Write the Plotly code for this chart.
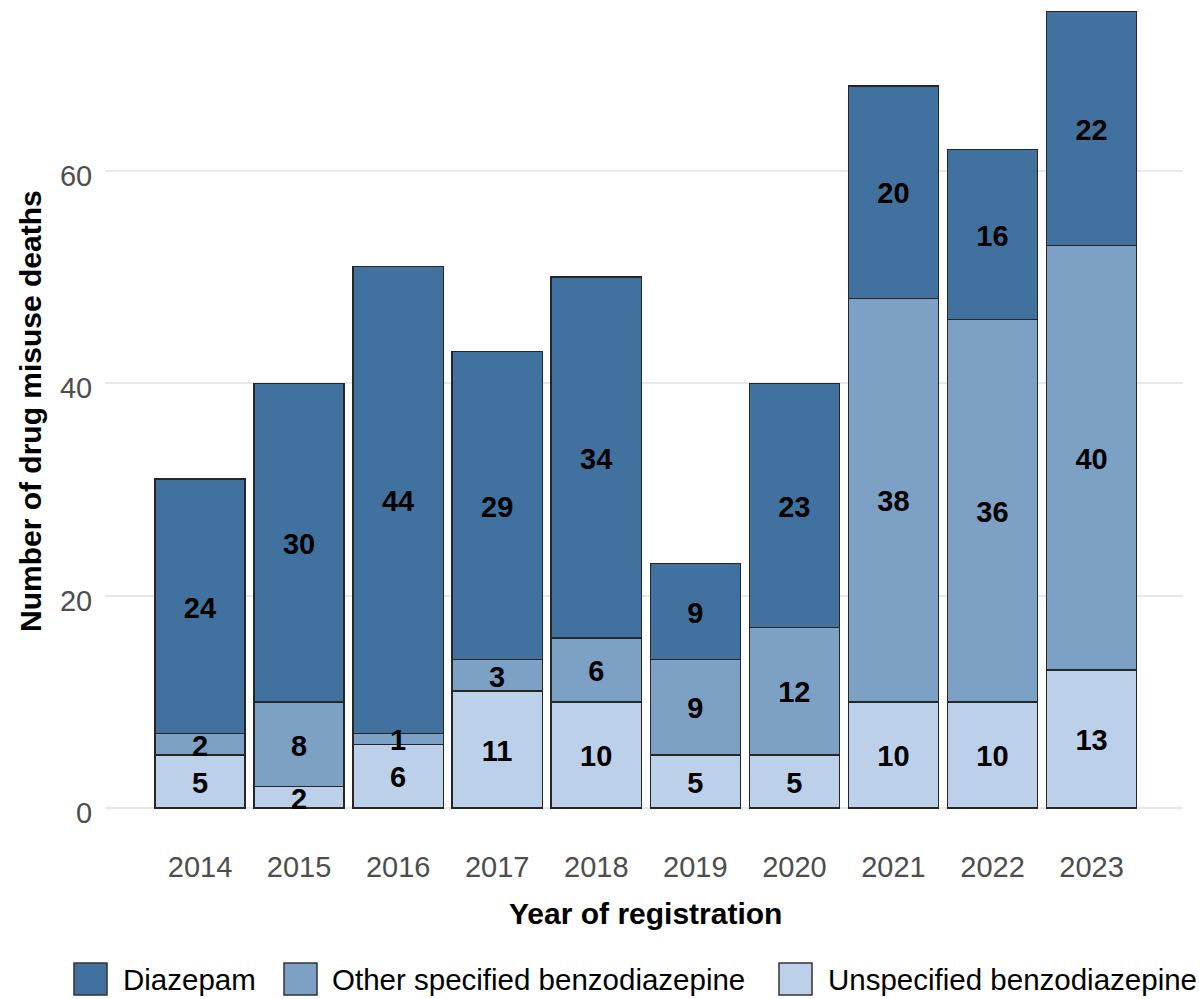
import plotly.graph_objects as go

years = ["2014", "2015", "2016", "2017", "2018", "2019", "2020", "2021", "2022", "2023"]
unspecified = [5, 2, 6, 11, 10, 5, 5, 10, 10, 13]
other_specified = [2, 8, 1, 3, 6, 9, 12, 38, 36, 40]
diazepam = [24, 30, 44, 29, 34, 9, 23, 20, 16, 22]
y_ticks = [0, 20, 40, 60]

# stacking order bottom -> top
stack_names = ["Unspecified benzodiazepine", "Other specified benzodiazepine", "Diazepam"]
stack_values = [unspecified, other_specified, diazepam]
stack_colors = ["#BDD0E9", "#7DA1C5", "#41729F"]
legend_order = ["Diazepam", "Other specified benzodiazepine", "Unspecified benzodiazepine"]

FONT = "Liberation Sans, Arial, sans-serif"
W, H = 1199, 999
ML, MR, MT, MB = 105, 16, 0, 151
PW, PH = W - ML - MR, H - MT - MB
Y_RANGE = [-3.77, 76.1]
LABEL_DROP_PX = 4  # visual nudge of segment labels (pixels)
label_drop = LABEL_DROP_PX * (Y_RANGE[1] - Y_RANGE[0]) / PH


def px_x(p):
    return (p - ML) / PW


def px_y(p):
    return (H - MB - p) / PH


fig = go.Figure()
base = [0] * len(years)
for name, vals, col in zip(stack_names, stack_values, stack_colors):
    fig.add_trace(go.Bar(
        x=years, y=vals, name=name, marker=dict(color=col, line=dict(color="#262626", width=1.4)),
        showlegend=False, hoverinfo="x+y+name",
    ))
    mids = [b + v / 2 - label_drop for b, v in zip(base, vals)]
    fig.add_trace(go.Scatter(
        x=years, y=mids, mode="text", text=[str(v) for v in vals],
        textfont=dict(family=FONT, size=29, color="#000000", weight="bold"),
        showlegend=False, hoverinfo="skip",
    ))
    base = [b + v for b, v in zip(base, vals)]

fig.update_layout(
    width=W, height=H, barmode="stack", bargap=0.09,
    margin=dict(l=ML, r=MR, t=MT, b=MB, autoexpand=False),
    plot_bgcolor="white", paper_bgcolor="white",
    font=dict(family=FONT),
    showlegend=False,
)
fig.update_xaxes(
    type="category", range=[-0.959, 9.923], showgrid=False, zeroline=False, showline=False,
    ticks="", ticklabelstandoff=-1,
    tickfont=dict(family=FONT, size=29, color="#4D4D4D"),
)
fig.update_yaxes(
    range=Y_RANGE, tickvals=y_ticks, showgrid=True, gridcolor="#E8E8E8", gridwidth=1.6,
    zeroline=False, showline=False,
    ticks="outside", ticklen=6, tickcolor="rgba(0,0,0,0)", ticklabelshift=5,
    tickfont=dict(family=FONT, size=29, color="#4D4D4D"),
)

annotations = [
    dict(text="Year of registration", x=px_x(645), y=px_y(913), xref="paper", yref="paper",
         showarrow=False, xanchor="center", yanchor="middle",
         font=dict(family=FONT, size=30, color="#000000", weight="bold")),
    dict(text="Number of drug misuse deaths", x=px_x(30), y=px_y(411), xref="paper", yref="paper",
         showarrow=False, xanchor="center", yanchor="middle", textangle=-90,
         font=dict(family=FONT, size=30, color="#000000", weight="bold")),
]

# custom legend with large keys
color_of = dict(zip(stack_names, stack_colors))
key_left = [74, 284, 779]
text_left = [121, 330, 826]
shapes = []
for name, kl, tl in zip(legend_order, key_left, text_left):
    shapes.append(dict(type="rect", xref="paper", yref="paper",
                       x0=px_x(kl), x1=px_x(kl + 33), y0=px_y(995), y1=px_y(963),
                       fillcolor=color_of[name], line=dict(color="#333333", width=1.5)))
    annotations.append(dict(text=name, x=px_x(tl), y=px_y(979), xref="paper", yref="paper",
                            showarrow=False, xanchor="left", yanchor="middle",
                            font=dict(family=FONT, size=29.5, color="#000000")))

fig.update_layout(annotations=annotations, shapes=shapes)
fig.write_html(
    "out.html",
    config={"displayModeBar": False},
    post_script="document.body.style.margin='0';document.documentElement.style.overflow='hidden';",
)
